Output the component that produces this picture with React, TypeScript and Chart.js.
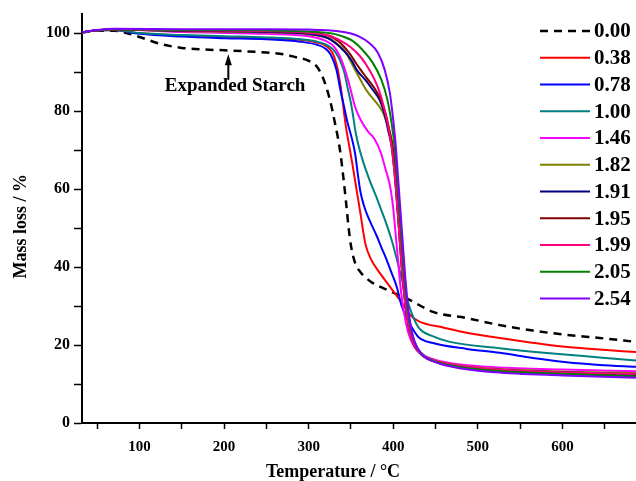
import React, { useEffect, useRef } from "react";
import { Chart, registerables } from "chart.js";

Chart.register(...registerables);

// ---- data (temperature °C, mass %) ----
const seriesLabels = ["0.00", "0.38", "0.78", "1.00", "1.46", "1.82", "1.91", "1.95", "1.99", "2.05", "2.54"];
const seriesColors = ["#000000", "#ff0000", "#0000ff", "#008080", "#ff00ff", "#808000", "#000080", "#800000", "#ff0080", "#008000", "#8000ff"];

const curve000: [number, number][] = [
  [32, 100.2], [50, 100.6], [70, 100.6], [80, 100.3], [100, 99], [125, 97.2], [150, 96.2], [175, 95.8], [200, 95.6],
  [250, 95], [270, 94.6], [285, 93.8], [300, 92.9], [310, 91.3], [317, 88.5], [325, 83], [331, 77], [337, 70],
  [341, 63], [344, 57], [347, 50.5], [350, 45.5], [355, 41], [362, 38.5], [368, 37.2], [375, 36], [394, 34],
  [420, 31.5], [447, 28.5], [487, 26.9], [526, 25.1], [565, 23.7], [605, 22.6], [644, 21.8], [687, 20.8],
];
const curve038: [number, number][] = [
  [32, 100.2], [50, 100.7], [70, 100.8], [100, 100], [150, 99.3], [200, 99], [250, 98.7], [290, 98.3], [310, 97.6],
  [320, 96.8], [328, 95], [334, 91], [338, 86], [341, 81], [344, 76], [348, 71], [352, 66], [355, 62], [361, 54],
  [367, 46], [373, 42.3], [384, 38.5], [396, 35], [408, 31.5], [420, 27.7], [431, 26], [459, 24.5], [490, 23],
  [526, 21.8], [558, 20.8], [600, 19.6], [640, 18.9], [687, 18.2],
];
const curve078: [number, number][] = [
  [32, 100.2], [50, 100.7], [70, 100.8], [100, 99.8], [150, 99.1], [200, 98.7], [250, 98.4], [290, 97.8], [310, 97],
  [320, 96], [326, 94.5], [333, 90.5], [337, 86], [342, 81], [346, 77], [351, 73], [355, 69], [358, 64], [361, 59.5],
  [365, 56], [369, 53.5], [374, 51], [381, 47.7], [386, 45], [391, 42.5], [398, 38.5], [404, 35], [410, 30],
  [416, 27], [422, 24.5], [430, 22], [447, 20.5], [487, 19], [526, 18], [565, 16.7], [605, 15.6], [644, 14.9], [687, 14.4],
];
const curve100: [number, number][] = [
  [32, 100.2], [50, 100.7], [70, 100.8], [100, 100], [150, 99.5], [200, 99.2], [250, 98.9], [290, 98.4], [310, 97.8],
  [325, 96.5], [332, 95], [337, 93], [342, 90], [346, 86], [350, 82], [352, 79.5], [356, 74], [363, 68], [372, 62.3],
  [380, 58], [386, 54.5], [392, 51], [398, 47], [403, 43], [410, 37], [416, 32], [423, 27.5], [431, 24.2],
  [445, 22.4], [467, 20.8], [526, 19.2], [585, 17.9], [644, 16.8], [687, 16],
];
const curve146: [number, number][] = [
  [32, 100.2], [50, 100.7], [70, 100.9], [150, 100.3], [250, 99.8], [300, 99.2], [320, 98], [330, 96.5], [337, 94],
  [343, 90.5], [349, 86], [355, 81], [362, 77.5], [370, 74.8], [378, 72.8], [385, 69.5], [391, 65], [396, 61],
  [400, 55], [403, 48], [406, 41], [409, 34], [413, 28], [418, 23], [425, 19.5], [435, 17.5], [450, 16.2],
  [480, 15], [520, 14.3], [600, 13.7], [687, 13.3],
];
const curve182: [number, number][] = [
  [32, 100.2], [50, 100.7], [70, 100.9], [150, 100.5], [250, 100.2], [300, 99.7], [325, 98.5], [338, 96.5], [344, 95],
  [349, 93], [355, 90.5], [360, 88.5], [365, 86.5], [370, 84.8], [379, 82.4], [387, 80], [393, 76.5], [398, 72.5],
  [402, 64], [406, 52], [410, 40], [414, 31], [419, 24], [425, 19.8], [435, 17.3], [450, 15.9], [480, 14.7],
  [520, 13.9], [600, 13.2], [687, 12.8],
];
const curve191: [number, number][] = [
  [32, 100.2], [50, 100.7], [70, 100.9], [150, 100.6], [250, 100.3], [300, 99.8], [322, 98.8], [333, 97.2], [340, 95.8],
  [346, 94.4], [352, 92.5], [357, 90.5], [367, 88], [376, 85.4], [384, 82.8], [390, 79], [394, 75], [398, 71],
  [402, 63], [406, 52], [410, 40], [414, 31], [419, 24], [425, 19.8], [435, 17.2], [450, 15.7], [480, 14.5],
  [520, 13.7], [600, 13], [687, 12.5],
];
const curve195: [number, number][] = [
  [32, 100.2], [50, 100.7], [70, 101], [150, 100.7], [250, 100.5], [300, 100.1], [325, 99.2], [336, 97.8], [343, 96.2],
  [349, 94.6], [355, 92.6], [360, 91], [369, 88.4], [378, 85.8], [386, 82.6], [392, 78.5], [396, 74.5], [400, 70],
  [404, 62], [408, 51], [412, 39], [416, 30], [421, 23.5], [427, 19.5], [437, 17], [452, 15.5], [480, 14.3],
  [520, 13.4], [600, 12.6], [687, 12.1],
];
const curve199: [number, number][] = [
  [32, 100.2], [50, 100.7], [70, 101], [150, 100.7], [250, 100.5], [300, 100.1], [325, 99.3], [338, 98], [349, 96.5],
  [361, 94], [372, 90.5], [382, 86], [389, 81], [394, 76], [398, 71], [402, 63], [406, 52], [410, 40], [414, 31],
  [419, 24], [425, 19.8], [435, 17.3], [450, 15.9], [480, 14.6], [520, 13.8], [600, 13], [687, 12.6],
];
const curve205: [number, number][] = [
  [32, 100.2], [50, 100.7], [70, 101], [150, 100.8], [250, 100.7], [300, 100.4], [330, 99.8], [342, 99], [352, 98],
  [364, 95.6], [376, 92.3], [386, 88], [393, 83], [398, 77], [402, 70], [405, 62], [409, 50], [413, 38], [417, 29],
  [422, 23], [428, 19.5], [438, 17], [452, 15.6], [480, 14.3], [520, 13.4], [600, 12.6], [687, 12],
];
const curve254: [number, number][] = [
  [32, 100.2], [50, 100.8], [70, 101.1], [150, 101], [250, 101], [300, 100.9], [335, 100.5], [350, 99.9], [360, 99.1],
  [372, 97.4], [382, 94.9], [390, 90.5], [396, 84.6], [400, 77.7], [403, 71], [406, 62], [410, 50], [414, 38],
  [418, 29], [423, 22.5], [429, 19], [440, 16.6], [455, 15.2], [480, 14], [520, 13], [600, 12.2], [687, 11.6],
];

const allCurves = [curve000, curve038, curve078, curve100, curve146, curve182, curve191, curve195, curve199, curve205, curve254];

const xMin = 32;
const xMax = 687;
const yMin = 0;
const yMax = 105;
const xTickStep = 50;
const yTickStep = 10;

// annotation: arrow pointing at the expanded starch curve
const annotationText = "Expanded Starch";
const annotationArrowX = 205;
const annotationArrowFrom = 88;
const annotationArrowTo = 94.6;
const annotationTextX = 213;
const annotationTextY = 86.3;

const FONT = "'Liberation Serif', 'Times New Roman', serif";

export default function App() {
  const ref = useRef<HTMLCanvasElement>(null);

  useEffect(() => {
    const canvas = ref.current;
    if (!canvas) return;

    const datasets = allCurves.map((c, i) => ({
      label: seriesLabels[i],
      data: c.map(([x, y]) => ({ x, y })),
      borderColor: seriesColors[i],
      backgroundColor: seriesColors[i],
      borderWidth: i === 0 ? 2.5 : 2,
      borderDash: i === 0 ? [8, 6] : [],
      pointRadius: 0,
      fill: false,
      cubicInterpolationMode: "monotone" as const,
      order: allCurves.length - i,
    }));

    const decor = {
      id: "decor",
      afterDraw(chart: any) {
        const ctx = chart.ctx as CanvasRenderingContext2D;
        const xs = chart.scales.x;
        const ys = chart.scales.y;
        ctx.save();
        // legend
        const ds = chart.data.datasets;
        ctx.font = `bold 21px ${FONT}`;
        ctx.textAlign = "left";
        ctx.textBaseline = "middle";
        for (let i = 0; i < ds.length; i++) {
          const y = 31 + i * 26.75;
          ctx.beginPath();
          ctx.strokeStyle = ds[i].borderColor;
          ctx.lineWidth = ds[i].borderWidth;
          ctx.setLineDash(ds[i].borderDash || []);
          ctx.moveTo(540, y);
          ctx.lineTo(590, y);
          ctx.stroke();
          ctx.setLineDash([]);
          ctx.fillStyle = "#000";
          ctx.fillText(ds[i].label, 594, y + 1);
        }
        // annotation
        const ax = xs.getPixelForValue(annotationArrowX);
        const ay0 = ys.getPixelForValue(annotationArrowFrom);
        const ay1 = ys.getPixelForValue(annotationArrowTo);
        ctx.strokeStyle = "#000";
        ctx.fillStyle = "#000";
        ctx.lineWidth = 2;
        ctx.beginPath();
        ctx.moveTo(ax, ay0);
        ctx.lineTo(ax, ay1 + 8);
        ctx.stroke();
        ctx.beginPath();
        ctx.moveTo(ax, ay1);
        ctx.lineTo(ax - 3.5, ay1 + 11);
        ctx.lineTo(ax + 3.5, ay1 + 11);
        ctx.closePath();
        ctx.fill();
        ctx.font = `bold 19px ${FONT}`;
        ctx.textAlign = "center";
        ctx.textBaseline = "middle";
        ctx.fillText(annotationText, xs.getPixelForValue(annotationTextX), ys.getPixelForValue(annotationTextY));
        // axis titles
        ctx.font = `bold 18px ${FONT}`;
        ctx.textAlign = "center";
        ctx.textBaseline = "alphabetic";
        ctx.fillText("Temperature / °C", chart.chartArea.left + 251, 477);
        ctx.translate(21, (chart.chartArea.top + chart.chartArea.bottom) / 2 + 8);
        ctx.rotate(-Math.PI / 2);
        ctx.textBaseline = "middle";
        ctx.fillText("Mass loss / %", 0, 0);
        ctx.restore();
      },
    };

    const chart = new Chart(canvas, {
      type: "line",
      data: { datasets },
      options: {
        animation: false,
        responsive: false,
        maintainAspectRatio: false,
        layout: { padding: { top: 13, right: 0, left: 0, bottom: 0 } },
        plugins: { legend: { display: false }, tooltip: { enabled: false } },
        elements: { line: { tension: 0 } },
        scales: {
          x: {
            type: "linear",
            min: xMin,
            max: xMax,
            afterFit: (s: any) => { s.height = 58; },
            ticks: {
              stepSize: xTickStep,
              includeBounds: false,
              autoSkip: false,
              maxRotation: 0,
              padding: 9,
              color: "#000",
              font: { family: FONT, weight: "bold" as const, size: 15 },
              callback: (v: any) => (v % 100 === 0 && v >= 100 && v <= 600 ? String(v) : ""),
            },
            grid: { drawOnChartArea: false, drawTicks: true, tickLength: 6, tickColor: "#000", tickWidth: 1.5 },
            border: { display: true, color: "#000", width: 2 },
          },
          y: {
            type: "linear",
            min: yMin,
            max: yMax,
            afterFit: (s: any) => { s.width = 82; },
            ticks: {
              stepSize: yTickStep,
              includeBounds: false,
              autoSkip: false,
              padding: 4,
              color: "#000",
              font: { family: FONT, weight: "bold" as const, size: 16 },
              callback: (v: any) => (v % 20 === 0 ? String(v) : ""),
            },
            grid: { drawOnChartArea: false, drawTicks: true, tickLength: 8, tickColor: "#000", tickWidth: 1.5 },
            border: { display: true, color: "#000", width: 2 },
          },
        },
      },
      plugins: [decor],
    } as any);

    return () => chart.destroy();
  }, []);

  return (
    <div style={{ position: "fixed", left: 0, top: 0, width: 636, height: 481, background: "#fff" }}>
      <canvas ref={ref} width={636} height={481} style={{ display: "block" }} />
    </div>
  );
}
